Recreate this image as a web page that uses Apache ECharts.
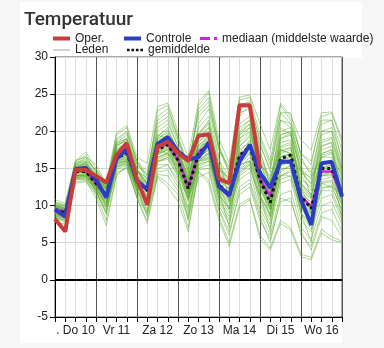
<!DOCTYPE html>
<html><head><meta charset="utf-8">
<script src="https://cdn.jsdelivr.net/npm/echarts@6/dist/echarts.min.js"></script>
<style>html,body{margin:0;padding:0;background:#f6f6f6;} #c{width:384px;height:348px;}</style>
</head><body><div id="c"></div>
<script>
const hours = [0,6,12,18,24,30,36,42,48,54,60,66,72,78,84,90,96,102,108,114,120,126,132,138,144,150,156,162,168];
const dayLabels = ['. Do 10','Vr 11','Za 12','Zo 13','Ma 14','Di 15','Wo 16'];
const yTicks = [-5,0,5,10,15,20,25,30];

const oper = [8.2,6.5,14.8,14.8,14.0,13.1,16.8,18.4,13.5,10.1,17.9,18.6,17.1,16.0,19.4,19.6,13.6,13.0,23.5,23.5,15.0];
const controle = [9.5,8.5,14.9,15.1,13.5,11.1,16.3,17.6,13.3,12.2,18.3,19.2,17.3,16.2,16.5,18.5,12.6,11.4,15.9,18.2,14.4,12.4,15.9,15.9,10.8,7.4,15.7,15.9,11.2];
const mediaan = [9.5,9.2,14.8,14.7,13.0,11.2,16.7,17.2,13.5,12.0,17.7,18.3,16.2,12.5,17.2,18.3,12.5,11.2,16.5,18.0,13.5,11.3,16.0,16.0,11.2,9.9,14.6,14.6,11.2];
const gemiddelde = [9.4,9.0,14.6,14.6,13.0,11.4,16.5,17.0,13.5,12.0,17.5,18.2,16.1,12.3,17.0,18.2,12.8,11.5,16.7,18.0,13.5,10.4,16.3,16.8,11.2,9.6,15.0,15.0,11.5];

const leden = [
[10.5,10.1,16.0,17.2,15.0,12.8,19.5,20.5,15.8,13.5,22.8,23.5,19.0,14.5,23.5,25.2,18.0,14.8,24.2,24.6,19.5,16.0,23.5,21.5,17.0,15.5,22.0,22.4,18.5],
[7.8,7.5,13.2,13.4,11.0,7.3,14.0,15.4,11.0,7.6,13.8,12.5,10.5,6.5,14.6,13.5,8.5,5.0,10.2,11.0,6.0,4.3,8.0,7.0,3.5,3.0,6.8,5.8,5.2],
[9.8,9.4,15.2,15.5,13.8,12.0,17.5,18.0,14.2,12.8,19.0,19.8,17.0,13.5,19.5,21.0,15.0,12.5,20.0,21.5,16.0,12.0,19.5,20.0,14.0,12.0,18.5,19.0,14.5],
[9.0,8.7,14.0,14.2,12.4,10.5,15.8,16.5,12.5,10.8,16.5,17.0,15.0,11.0,16.0,17.2,11.5,9.8,15.0,16.5,12.0,9.5,15.5,16.0,10.0,8.5,13.5,13.8,10.5],
[9.6,9.3,14.8,15.0,13.3,12.5,17.0,17.8,14.5,13.0,18.2,19.0,17.2,14.0,18.0,19.5,14.2,13.0,18.5,19.8,15.0,11.5,17.5,17.8,12.5,11.0,16.5,17.0,13.0],
[8.5,8.0,13.6,13.8,12.0,9.0,15.0,15.8,12.0,9.5,15.0,15.5,13.5,9.0,15.5,16.0,10.5,8.0,13.5,14.5,9.5,7.0,13.0,13.5,8.0,6.5,11.0,11.5,8.0],
[10.2,9.8,15.5,16.5,14.5,12.2,18.5,19.5,15.5,14.0,21.0,22.0,18.5,15.5,22.0,23.5,17.5,15.2,22.5,23.0,18.0,15.0,21.5,20.5,16.0,14.5,20.0,20.5,16.5],
[9.2,8.9,14.5,14.4,12.8,11.0,16.2,16.8,13.0,11.5,17.0,17.8,15.5,12.0,16.8,18.0,12.5,11.0,16.0,17.5,13.0,10.0,16.0,16.5,11.0,9.5,14.5,14.5,11.0],
[9.5,9.1,14.7,14.9,13.2,11.8,16.8,17.2,13.8,12.5,17.8,18.5,16.5,12.8,17.5,18.8,13.5,12.0,17.5,18.5,14.0,11.0,17.0,17.5,12.0,10.2,15.5,15.8,12.2],
[8.8,8.4,13.8,14.0,12.2,10.0,15.5,16.0,12.2,10.2,16.0,16.5,14.5,10.5,15.8,16.8,11.0,9.0,14.2,15.5,10.8,8.0,14.0,14.8,9.0,7.5,12.5,12.5,9.5],
[10.0,9.6,15.4,15.8,14.0,12.4,18.0,18.8,15.0,13.5,20.0,21.0,18.0,14.8,20.5,22.0,16.0,14.0,21.0,22.0,17.0,13.5,20.5,19.5,15.0,13.5,19.5,20.0,15.5],
[9.3,9.0,14.6,14.6,13.0,11.5,16.5,17.0,13.5,12.2,17.5,18.0,16.0,12.0,17.0,18.0,13.0,11.5,16.8,18.0,13.5,10.5,16.5,16.8,11.5,9.8,15.0,15.0,11.5],
[8.2,7.8,13.0,13.2,11.5,8.0,14.2,15.2,11.0,8.0,14.0,13.0,11.5,7.0,14.5,13.0,8.0,4.5,9.8,10.8,5.5,4.0,7.6,6.7,3.1,2.7,6.3,5.4,5.0],
[9.7,9.4,15.0,15.5,13.8,12.8,17.8,18.2,14.5,13.8,19.5,20.2,17.5,14.5,19.0,20.5,15.5,13.5,19.5,20.5,15.5,12.5,18.5,18.8,13.5,12.5,17.5,18.0,14.0],
[9.0,8.6,14.2,14.0,12.5,10.8,16.0,16.3,13.0,11.0,16.8,17.5,15.2,11.5,16.5,17.5,12.0,10.5,15.5,17.0,12.5,9.8,15.8,16.2,10.5,9.0,14.0,14.5,11.0],
[10.8,10.3,16.1,16.5,15.5,13.0,19.8,20.8,16.5,15.7,23.3,23.8,20.0,16.5,24.0,25.5,19.0,15.7,24.6,24.9,21.0,17.5,23.8,22.0,18.8,17.5,22.5,22.6,19.0],
[8.6,8.2,13.5,13.5,11.8,9.5,15.2,15.6,12.0,10.0,15.5,15.5,13.0,9.5,15.0,15.5,10.0,7.5,12.5,13.5,9.0,6.0,11.5,12.0,7.0,5.5,10.0,10.5,7.5],
[9.4,9.0,14.9,15.2,13.5,11.8,17.2,17.8,14.0,12.5,18.5,19.2,16.8,13.0,18.5,19.8,14.5,12.8,19.0,20.0,15.0,11.8,18.0,18.5,13.0,11.5,17.0,17.5,13.5],
[9.1,8.8,14.4,14.5,12.6,11.2,16.3,16.8,13.2,11.8,17.2,17.8,15.8,12.2,16.8,17.8,12.5,11.2,16.5,17.8,13.2,10.3,16.5,17.0,11.2,9.6,15.2,15.5,11.8],
[9.9,9.5,15.3,15.6,14.0,12.0,17.5,18.5,14.8,13.0,19.0,20.0,17.5,13.8,19.2,20.5,15.0,13.2,19.8,21.0,16.0,13.0,19.0,19.8,14.5,13.0,18.0,18.5,14.5],
[8.3,8.0,13.5,13.8,12.0,9.8,14.8,15.5,11.5,9.0,14.5,14.8,12.5,8.5,14.8,15.0,9.5,6.5,11.5,12.5,8.0,5.5,10.5,11.0,6.0,4.5,9.0,9.5,6.5],
[9.6,9.2,14.8,14.8,13.2,11.6,16.6,17.2,13.6,12.0,17.6,18.4,16.2,12.6,17.2,18.4,13.0,11.6,17.0,18.2,13.6,10.6,16.6,17.0,11.4,9.8,15.2,15.2,11.6],
[10.3,9.9,15.8,16.8,14.5,12.6,18.8,19.8,16.0,14.5,21.5,22.5,19.0,15.5,22.5,24.0,17.5,14.5,23.0,23.5,19.0,15.5,22.5,21.0,17.0,16.0,21.5,21.5,17.5],
[8.9,8.5,14.0,14.3,12.5,10.3,15.7,16.2,12.6,10.6,16.2,16.8,14.8,11.0,16.0,17.0,11.3,9.5,14.8,16.0,11.5,8.8,14.8,15.3,9.8,8.2,13.2,13.4,10.0],
[9.2,8.8,14.3,14.7,12.9,11.3,16.4,17.1,13.4,11.9,17.3,18.0,15.9,12.4,16.9,18.1,12.8,11.4,16.6,17.9,13.3,10.2,16.2,16.6,11.0,9.4,14.8,15.0,11.3],
[10.0,9.7,15.6,16.0,14.2,12.3,18.3,19.0,14.8,12.8,18.8,19.5,17.2,13.2,18.2,19.0,13.8,12.2,18.0,19.2,14.5,11.2,17.8,18.2,12.8,11.2,16.8,17.2,12.8],
[8.7,8.3,13.7,14.1,12.3,10.2,15.3,16.0,12.4,11.0,16.4,17.2,15.0,11.2,15.5,16.5,11.8,10.2,14.5,15.8,11.2,9.0,14.5,15.5,10.2,8.8,13.0,13.2,10.2],
[9.8,9.5,15.1,15.8,14.2,11.5,18.0,19.0,15.0,11.8,18.5,19.5,16.5,11.5,19.5,21.5,14.0,10.5,19.0,20.5,14.5,9.5,19.0,19.5,12.5,9.0,17.0,17.5,12.0],
[8.9,8.6,14.1,13.9,12.0,10.8,15.8,16.0,12.8,12.5,17.5,17.0,14.5,12.8,16.0,16.2,12.0,12.5,15.5,16.0,12.5,11.8,14.0,14.5,11.5,10.5,13.0,12.5,11.5],
[9.5,9.2,14.5,15.0,13.6,12.8,17.5,18.0,14.8,13.2,20.5,21.5,17.8,12.5,21.0,23.0,16.5,11.0,22.0,23.5,17.5,12.5,21.5,21.0,15.5,11.0,20.0,20.0,15.0],
[9.0,8.5,13.8,14.3,12.6,9.8,15.5,16.2,11.8,9.2,15.8,16.5,13.8,9.8,16.2,17.0,10.8,8.5,14.5,15.5,10.2,7.5,14.0,14.0,9.0,6.8,12.0,12.0,8.5],
[10.1,9.6,15.5,16.0,14.8,13.0,18.5,19.0,15.5,14.2,19.5,19.0,16.8,14.2,18.0,18.5,14.8,13.8,17.0,17.5,15.5,14.0,17.5,17.0,14.5,13.8,16.5,16.5,14.2],
[8.6,8.3,13.9,14.5,12.0,8.8,16.0,17.0,12.5,8.5,17.0,18.5,14.0,8.0,17.5,19.5,12.0,7.0,18.0,19.5,11.5,6.5,17.5,17.0,9.0,5.0,15.0,15.5,8.0],
[9.3,8.9,14.7,14.6,13.4,12.2,16.0,16.5,14.0,12.8,16.5,17.0,16.0,13.5,16.0,16.5,14.0,13.0,15.5,16.0,14.0,12.0,15.0,15.0,13.0,11.5,14.0,14.0,12.5],
[9.7,9.3,15.0,15.2,13.0,11.0,17.0,17.5,13.0,10.5,18.0,19.0,15.5,10.8,18.5,20.0,12.5,9.5,19.5,21.0,13.0,8.5,19.5,20.0,11.0,7.5,18.0,18.5,10.0],
[8.4,8.1,13.8,13.6,11.6,9.2,14.5,15.0,11.2,8.8,14.2,14.0,12.0,8.2,13.8,14.5,9.2,6.0,12.0,13.0,8.5,5.0,11.0,10.5,6.5,4.0,8.5,8.0,5.8],
[10.4,10.0,15.8,16.2,14.8,12.5,19.0,20.0,16.0,14.0,22.0,23.0,19.5,15.0,23.0,24.5,18.0,14.2,23.5,24.0,18.5,14.5,22.5,22.5,16.5,14.0,21.0,21.5,16.0],
[9.1,8.7,14.4,14.8,13.0,11.5,16.5,17.5,13.2,11.2,17.8,18.6,15.8,11.8,17.5,19.0,12.8,10.8,17.2,18.8,13.0,9.8,17.2,17.8,11.2,9.0,15.5,16.0,11.0],
[9.4,9.1,14.6,14.4,12.5,11.0,16.2,16.6,13.6,12.4,17.0,17.5,16.5,13.2,16.5,17.5,13.5,12.2,16.2,17.2,14.2,11.5,15.5,16.0,12.2,10.8,14.2,14.5,12.0],
[8.8,8.4,14.0,14.0,12.2,10.4,15.2,15.8,12.5,10.8,16.0,16.2,14.2,10.8,15.2,16.0,11.5,9.5,14.0,15.0,11.2,8.5,13.5,14.0,9.5,8.0,12.2,12.8,9.2],
[10.0,9.5,15.2,15.7,14.0,12.2,18.2,18.6,14.6,13.0,19.2,20.5,17.0,13.6,19.8,21.2,15.2,13.4,20.5,21.5,16.5,13.2,20.0,20.5,14.8,12.8,18.8,19.2,14.8],
[9.2,8.8,14.2,14.6,12.8,10.8,16.0,16.9,13.0,11.4,16.8,17.6,15.3,11.6,16.4,17.6,12.2,10.6,15.8,17.0,12.4,9.4,15.4,15.8,10.4,8.8,14.0,14.2,10.8]
];

const pts = arr => arr.map((v, i) => [hours[i], v]);
const chart = echarts.init(document.getElementById('c'), null, {renderer: 'canvas'});

const GREEN = 'rgba(85,170,35,0.48)';
const series = [];
leden.forEach(m => series.push({
  name: 'Leden', type: 'line', data: pts(m), symbol: 'none', silent: true, z: 2,
  lineStyle: {width: 1, color: GREEN}, itemStyle: {color: GREEN}
}));
series.push({name: 'mediaan (middelste waarde)', type: 'line', data: pts(mediaan), symbol: 'none', z: 3,
  lineStyle: {width: 2.5, color: '#c828d8'}, itemStyle: {color: '#c828d8'}});
series.push({name: 'gemiddelde', type: 'line', data: pts(gemiddelde), symbol: 'none', z: 4,
  lineStyle: {width: 3, color: '#111', type: [3, 3]}, itemStyle: {color: '#111'}});
series.push({name: 'Controle', type: 'line', data: pts(controle), symbol: 'none', z: 5,
  lineStyle: {width: 4, color: '#2b3dc4'}, itemStyle: {color: '#2b3dc4'}});
series.push({name: 'Oper.', type: 'line', data: pts(oper), symbol: 'none', z: 6,
  lineStyle: {width: 4, color: '#c83c3c'}, itemStyle: {color: '#c83c3c'},
  markLine: {silent: true, symbol: 'none', label: {show: false}, lineStyle: {color: '#000', width: 2, type: 'solid'},
    data: [{yAxis: 0}]}});

const legendText = {fontFamily: 'Liberation Sans, Arial, sans-serif', fontSize: 12, color: '#222'};
function lg(name, left, top, icon, w, h, extra) {
  return Object.assign({data: [{name: name, icon: icon}], left: left, top: top, itemWidth: w, itemHeight: h, itemGap: 0,
    padding: 0, textStyle: legendText, selectedMode: false}, extra || {});
}

chart.setOption({
  animation: false,
  backgroundColor: 'transparent',
  title: {text: 'Temperatuur', left: 24, top: 11, padding: 0,
    textStyle: {fontFamily: 'Roboto, sans-serif', fontSize: 19, fontWeight: 500, color: '#333'}},
  graphic: [
    {type: 'rect', z: -10, shape: {x: 20, y: 2, width: 342, height: 56}, style: {fill: '#fff'}},
    {type: 'rect', z: -10, shape: {x: 20, y: 2, width: 322, height: 341}, style: {fill: '#fff'}}
  ],
  legend: [
    lg('Oper.', 53, 32.5, 'rect', 17, 4),
    lg('Controle', 124, 32.5, 'rect', 17, 4),
    lg('mediaan (middelste waarde)', 200, 32.5, 'path://M0,0h10v3h-10z M14,0h3v3h-3z', 17, 3),
    lg('Leden', 53, 44, 'rect', 17, 1.5, {itemStyle: {color: '#c4c4c4'}}),
    lg('gemiddelde', 127, 44, 'path://M0,0h3v3h-3z M5,0h3v3h-3z M10,0h3v3h-3z M15,0h3v3h-3z', 16, 3)
  ],
  grid: {left: 55, right: 42, top: 57, bottom: 31, show: true, borderColor: '#555', borderWidth: 1, backgroundColor: '#fff'},
  xAxis: [
    {type: 'value', min: 0, max: 168, interval: 6,
      axisLine: {show: true, onZero: false, lineStyle: {color: '#000', width: 1}},
      axisTick: {show: true, length: 5, lineStyle: {color: '#000'}},
      splitLine: {show: true, lineStyle: {color: '#ddd', width: 1}},
      axisLabel: {margin: 8, color: '#222', fontFamily: 'Liberation Sans, Arial, sans-serif', fontSize: 12,
        showMinLabel: true, showMaxLabel: true,
        formatter: v => (v % 24 === 12 ? dayLabels[(v - 12) / 24] : '')}},
    {type: 'value', min: 0, max: 168, interval: 24, position: 'bottom',
      axisLine: {show: false}, axisTick: {show: false}, axisLabel: {show: false},
      splitLine: {show: true, lineStyle: {color: '#555', width: 1}}}
  ],
  yAxis: {type: 'value', min: -5, max: 30, interval: 5,
    axisLine: {show: true, lineStyle: {color: '#000'}},
    axisTick: {show: true, length: 5, lineStyle: {color: '#000'}},
    splitLine: {show: true, lineStyle: {color: '#d4d4d4'}},
    axisLabel: {margin: 7, color: '#222', fontFamily: 'Liberation Sans, Arial, sans-serif', fontSize: 12,
      formatter: v => (yTicks.indexOf(v) >= 0 ? String(v) : '')}},
  series: series
});
</script>
</body></html>
